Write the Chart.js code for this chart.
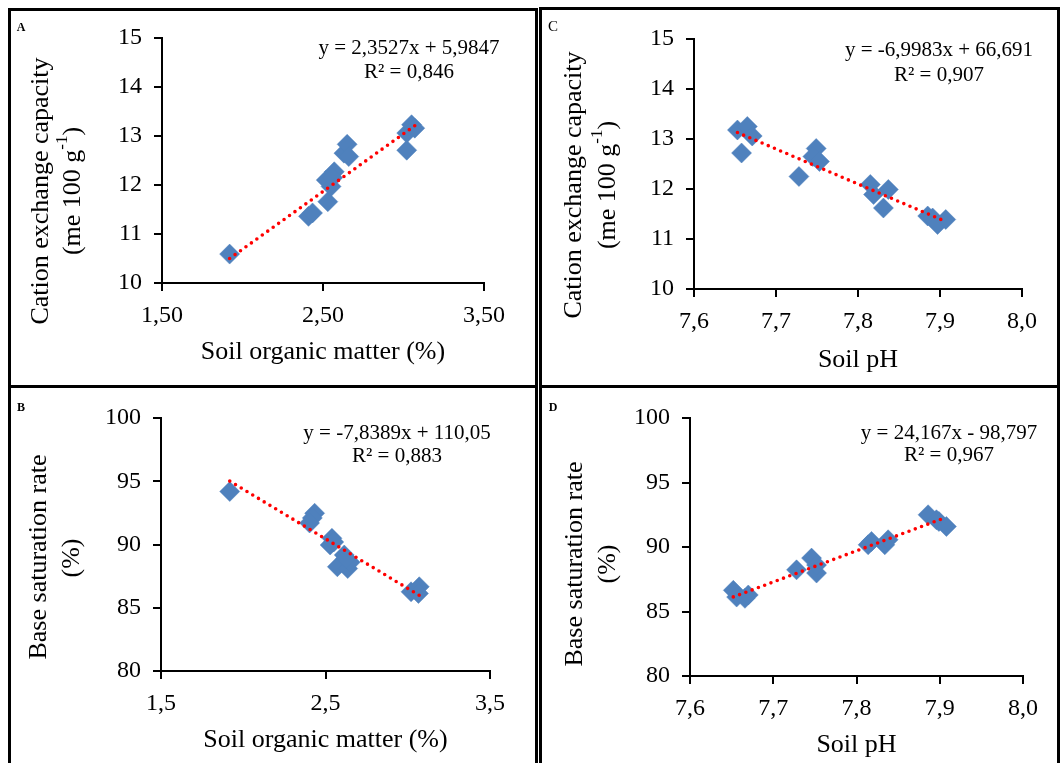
<!DOCTYPE html>
<html>
<head>
<meta charset="utf-8">
<script src="https://cdn.jsdelivr.net/npm/chart.js@4"></script>
<style>
  body { margin: 0; background: #fff; width: 1061px; height: 763px; overflow: hidden; position: relative; }
  .panel { position: absolute; border: 3px solid #000; box-sizing: border-box; overflow: hidden; }
  .panel canvas { position: absolute; left: 0; top: 0; }
</style>
</head>
<body>
<div class="panel" style="left:8px;top:8px;width:530px;height:380px"><canvas id="chartA" width="524" height="374"></canvas></div>
<div class="panel" style="left:539px;top:7px;width:521px;height:381px"><canvas id="chartC" width="515" height="375"></canvas></div>
<div class="panel" style="left:8px;top:385px;width:530px;height:390px"><canvas id="chartB" width="524" height="375"></canvas></div>
<div class="panel" style="left:539px;top:385px;width:521px;height:390px"><canvas id="chartD" width="515" height="375"></canvas></div>

<script>
// data
// A: soil organic matter vs CEC
const somA = [1.92, 2.41, 2.435, 2.53, 2.52, 2.55, 2.57, 2.56, 2.63, 2.65, 2.66, 3.02, 3.02, 3.05, 3.07];
const cecA = [10.59, 11.36, 11.43, 11.66, 12.10, 11.97, 12.27, 12.15, 12.65, 12.83, 12.58, 12.71, 13.06, 13.23, 13.16];
const trendAx = [1.92, 3.07];
const trendAy = [10.50, 13.21];

// C: soil pH vs CEC
const phC = [7.653, 7.658, 7.665, 7.671, 7.728, 7.749, 7.745, 7.753, 7.815, 7.819, 7.831, 7.837, 7.885, 7.891, 7.897, 7.907];
const cecC = [13.18, 12.72, 13.25, 13.06, 12.25, 12.81, 12.65, 12.55, 12.09, 11.89, 11.62, 11.99, 11.46, 11.42, 11.29, 11.39];
const trendCx = [7.653, 7.907];
const trendCy = [13.13, 11.35];

// B: soil organic matter vs base saturation
const somB = [1.918, 2.434, 2.42, 2.403, 2.539, 2.528, 2.55, 2.614, 2.572, 2.635, 2.65, 2.625, 3.02, 3.07, 3.065];
const bsrB = [94.19, 92.47, 92.1, 91.7, 90.49, 89.96, 90.2, 89.17, 88.24, 88.1, 88.6, 88.9, 86.26, 86.66, 86.13];
const trendBx = [1.918, 3.07];
const trendBy = [95.01, 85.98];

// D: soil pH vs base saturation
const phD = [7.652, 7.656, 7.666, 7.670, 7.728, 7.746, 7.752, 7.752, 7.814, 7.818, 7.834, 7.838, 7.886, 7.896, 7.899, 7.908];
const bsrD = [86.64, 86.12, 86.02, 86.28, 88.23, 89.14, 87.98, 88.6, 90.17, 90.43, 90.17, 90.56, 92.5, 92.11, 91.98, 91.59];
const trendDx = [7.652, 7.908];
const trendDy = [86.13, 92.31];

// ticks
const somTicks = [1.5, 2.5, 3.5];
const somLabelsA = ['1,50', '2,50', '3,50'];
const somLabelsB = ['1,5', '2,5', '3,5'];
const phTicks = [7.6, 7.7, 7.8, 7.9, 8.0];
const phLabels = ['7,6', '7,7', '7,8', '7,9', '8,0'];
const cecTicks = [10, 11, 12, 13, 14, 15];
const bsrTicks = [80, 85, 90, 95, 100];

const SERIF = "'Liberation Serif', 'Times New Roman', serif";
const BLUE = '#4F81BD';

// draws the rotated y titles, the equations and the panel letters
const textPlugin = {
    id: 'panelText',
    afterDraw(chart, args, opts) {
        const ctx = chart.ctx;
        opts.items.forEach(t => {
            ctx.save();
            ctx.fillStyle = '#000';
            ctx.textBaseline = 'middle';
            ctx.translate(t.x, t.y);
            if (t.rot) ctx.rotate(t.rot);
            const parts = t.parts || [{ s: t.text }];
            let total = 0;
            parts.forEach(p => {
                ctx.font = p.sup ? t.supFont : t.font;
                p.w = ctx.measureText(p.s).width;
                total += p.w;
            });
            let x = -total / 2;
            ctx.textAlign = 'left';
            parts.forEach(p => {
                ctx.font = p.sup ? t.supFont : t.font;
                ctx.fillText(p.s, x, p.sup ? -t.supShift : 0);
                x += p.w;
            });
            ctx.restore();
        });
    }
};

function makeChart(id, org, size, area, cfg) {
    const toPts = (xs, ys) => xs.map((v, i) => ({ x: v, y: ys[i] }));
    const items = cfg.texts.map(t => Object.assign({}, t, { x: t.x - org.x, y: t.y - org.y }));
    return new Chart(document.getElementById(id), {
        type: 'scatter',
        data: {
            datasets: [
                {
                    type: 'line',
                    data: toPts(cfg.tx, cfg.ty),
                    borderColor: '#FF0000',
                    borderWidth: 3.6,
                    borderDash: [0, 6.7],
                    borderCapStyle: 'round',
                    pointRadius: 0,
                    fill: false,
                    order: 0
                },
                {
                    data: toPts(cfg.xs, cfg.ys),
                    pointStyle: 'rectRot',
                    pointRadius: 10,
                    backgroundColor: BLUE,
                    borderColor: BLUE,
                    borderWidth: 0.5,
                    order: 1
                }
            ]
        },
        options: {
            responsive: false,
            animation: false,
            devicePixelRatio: 1,
            layout: {
                padding: { left: 0, bottom: 0, top: area.T - org.y, right: org.x + size.w - area.R }
            },
            plugins: {
                legend: { display: false },
                tooltip: { enabled: false },
                panelText: { items: items }
            },
            scales: {
                x: {
                    type: 'linear',
                    min: cfg.xTicks[0],
                    max: cfg.xTicks[cfg.xTicks.length - 1],
                    afterBuildTicks: s => { s.ticks = cfg.xTicks.map(v => ({ value: v })); },
                    afterFit: s => { s.height = org.y + size.h - area.B; },
                    ticks: {
                        color: '#000',
                        padding: 10,
                        maxRotation: 0,
                        font: { family: SERIF, size: 24 },
                        callback: (v, i) => cfg.xLabels[i]
                    },
                    grid: { drawOnChartArea: false, drawTicks: true, tickLength: 8, color: '#000', lineWidth: 2 },
                    border: { color: '#000', width: 2 },
                    title: {
                        display: true,
                        text: cfg.xTitle,
                        color: '#000',
                        font: { family: SERIF, size: 26, lineHeight: 1.2 },
                        padding: { top: 0, bottom: cfg.xTitlePad }
                    }
                },
                y: {
                    type: 'linear',
                    min: cfg.yTicks[0],
                    max: cfg.yTicks[cfg.yTicks.length - 1],
                    afterBuildTicks: s => { s.ticks = cfg.yTicks.map(v => ({ value: v })); },
                    afterFit: s => { s.width = area.L - org.x; },
                    ticks: {
                        color: '#000',
                        padding: 12,
                        font: { family: SERIF, size: 24 },
                        callback: v => String(v)
                    },
                    grid: { drawOnChartArea: false, drawTicks: true, tickLength: 8, color: '#000', lineWidth: 2 },
                    border: { color: '#000', width: 2 }
                }
            }
        },
        plugins: [textPlugin]
    });
}

const titleFont = '26px ' + SERIF;
const eqFont = '21px ' + SERIF;
const R90 = -Math.PI / 2;
const cecSecond = {
    parts: [{ s: '(me 100 g' }, { s: '-1', sup: true }, { s: ')' }],
    font: titleFont, supFont: '17px ' + SERIF, supShift: 10, rot: R90
};

makeChart('chartA', { x: 11, y: 11 }, { w: 524, h: 374 }, { L: 162, T: 38, R: 484, B: 283 }, {
    xs: somA, ys: cecA, tx: trendAx, ty: trendAy,
    xTicks: somTicks, xLabels: somLabelsA, yTicks: cecTicks,
    xTitle: 'Soil organic matter (%)', xTitlePad: 17,
    texts: [
        { text: 'Cation exchange capacity', x: 41, y: 191, rot: R90, font: titleFont },
        Object.assign({ x: 73, y: 191 }, cecSecond),
        { text: 'y = 2,3527x + 5,9847', x: 409, y: 48, font: eqFont },
        { text: 'R² = 0,846', x: 409, y: 72, font: eqFont },
        { text: 'A', x: 21, y: 28, font: 'bold 12px ' + SERIF }
    ]
});

makeChart('chartC', { x: 542, y: 10 }, { w: 515, h: 375 }, { L: 694, T: 39, R: 1022, B: 289 }, {
    xs: phC, ys: cecC, tx: trendCx, ty: trendCy,
    xTicks: phTicks, xLabels: phLabels, yTicks: cecTicks,
    xTitle: 'Soil pH', xTitlePad: 9,
    texts: [
        { text: 'Cation exchange capacity', x: 574, y: 185, rot: R90, font: titleFont },
        Object.assign({ x: 608, y: 185 }, cecSecond),
        { text: 'y = -6,9983x + 66,691', x: 939, y: 50, font: eqFont },
        { text: 'R² = 0,907', x: 939, y: 75, font: eqFont },
        { text: 'C', x: 553, y: 27, font: '15px ' + SERIF }
    ]
});

makeChart('chartB', { x: 11, y: 388 }, { w: 524, h: 375 }, { L: 161, T: 418, R: 490, B: 671 }, {
    xs: somB, ys: bsrB, tx: trendBx, ty: trendBy,
    xTicks: somTicks, xLabels: somLabelsB, yTicks: bsrTicks,
    xTitle: 'Soil organic matter (%)', xTitlePad: 7,
    texts: [
        { text: 'Base saturation rate', x: 39, y: 557, rot: R90, font: titleFont },
        { text: '(%)', x: 72, y: 558, rot: R90, font: titleFont },
        { text: 'y = -7,8389x + 110,05', x: 397, y: 433, font: eqFont },
        { text: 'R² = 0,883', x: 397, y: 456, font: eqFont },
        { text: 'B', x: 21, y: 408, font: 'bold 12px ' + SERIF }
    ]
});

makeChart('chartD', { x: 542, y: 388 }, { w: 515, h: 375 }, { L: 690, T: 418, R: 1023, B: 676 }, {
    xs: phD, ys: bsrD, tx: trendDx, ty: trendDy,
    xTicks: phTicks, xLabels: phLabels, yTicks: bsrTicks,
    xTitle: 'Soil pH', xTitlePad: 2,
    texts: [
        { text: 'Base saturation rate', x: 575, y: 564, rot: R90, font: titleFont },
        { text: '(%)', x: 608, y: 564, rot: R90, font: titleFont },
        { text: 'y = 24,167x - 98,797', x: 949, y: 433, font: eqFont },
        { text: 'R² = 0,967', x: 949, y: 455, font: eqFont },
        { text: 'D', x: 553, y: 408, font: 'bold 12px ' + SERIF }
    ]
});
</script>
</body>
</html>
